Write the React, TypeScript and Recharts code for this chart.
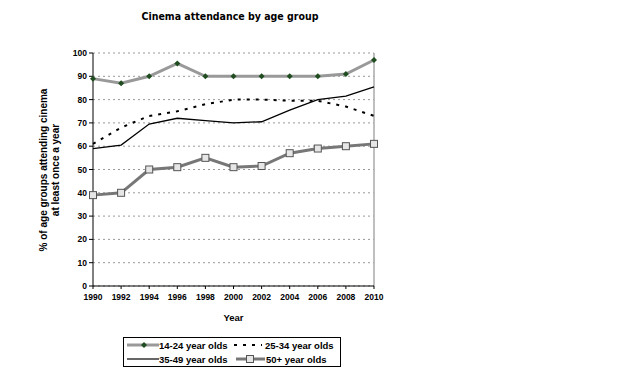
import {
  LineChart,
  Line,
  XAxis,
  YAxis,
  CartesianGrid,
  ReferenceLine,
} from "recharts";

const years = [1990, 1992, 1994, 1996, 1998, 2000, 2002, 2004, 2006, 2008, 2010];
const age14to24 = [89, 87, 90, 95.5, 90, 90, 90, 90, 90, 91, 97];
const age25to34 = [61, 68, 73, 75, 78, 80, 80, 79.5, 79.5, 77, 73];
const age35to49 = [59, 60.5, 69.5, 72, 71, 70, 70.5, 75.5, 80, 81.5, 85.5];
const age50plus = [39, 40, 50, 51, 55, 51, 51.5, 57, 59, 60, 61];
const yTicks = [0, 10, 20, 30, 40, 50, 60, 70, 80, 90, 100];

const data = years.map((y, i) => ({
  year: y,
  a: age14to24[i],
  b: age25to34[i],
  c: age35to49[i],
  d: age50plus[i],
}));

const font = "'Liberation Sans', Arial, sans-serif";
const tickStyle = { fontSize: 8.5, fontWeight: 700, fill: "#000", fontFamily: font };

function Diamond(props: any) {
  const { cx, cy } = props;
  if (cx == null || cy == null) return null;
  return <path d={`M${cx},${cy - 3} L${cx + 3},${cy} L${cx},${cy + 3} L${cx - 3},${cy} Z`} fill="#1f4d1f" />;
}

function Square(props: any) {
  const { cx, cy } = props;
  if (cx == null || cy == null) return null;
  return <rect x={cx - 3.5} y={cy - 3.5} width={7} height={7} fill="#e6e6e6" stroke="#555" strokeWidth={1} />;
}

function LegendBox() {
  const txt = { fontFamily: font, fontSize: 9.5, fontWeight: 700, fill: "#000" } as const;
  return (
    <svg width={218} height={30} style={{ position: "absolute", left: 123, top: 337 }}>
      <rect x={0.5} y={0.5} width={217} height={29} fill="#fff" stroke="#000" />
      <line x1={4} x2={36} y1={8} y2={8} stroke="#999" strokeWidth={3} />
      <Diamond cx={21} cy={8} />
      <text x={36} y={11.5} {...txt}>14-24 year olds</text>
      <line x1={111} x2={139} y1={8} y2={8} stroke="#000" strokeWidth={2} strokeDasharray="3 6" />
      <text x={142} y={11.5} {...txt}>25-34 year olds</text>
      <line x1={4} x2={36} y1={22} y2={22} stroke="#000" strokeWidth={1.2} />
      <text x={36} y={25.5} {...txt}>35-49 year olds</text>
      <line x1={113} x2={142} y1={22} y2={22} stroke="#777" strokeWidth={3} />
      <Square cx={127} cy={22} />
      <text x={143} y={25.5} {...txt}>50+ year olds</text>
    </svg>
  );
}

export default function App() {
  return (
    <div style={{ position: "absolute", left: 0, top: 0, width: 640, height: 378, background: "#fff", fontFamily: font }}>
      <div
        style={{
          position: "absolute",
          left: 0,
          width: 460,
          top: 10,
          textAlign: "center",
          fontSize: 10.5,
          fontWeight: 700,
          fontFamily: "'DejaVu Sans Condensed', 'DejaVu Sans', sans-serif",
        }}
      >
        Cinema attendance by age group
      </div>
      <div
        style={{
          position: "absolute",
          left: 50,
          top: 170,
          width: 220,
          transform: "translate(-50%, -50%) rotate(-90deg)",
          textAlign: "center",
          fontSize: 10,
          fontWeight: 700,
          lineHeight: "12px",
        }}
      >
        % of age groups attending cinema
        <br />
        at least once a year
      </div>
      <div style={{ position: "absolute", left: 93, width: 281, top: 312, textAlign: "center", fontSize: 9.5, fontWeight: 700 }}>
        Year
      </div>
      <LineChart width={640} height={378} data={data} margin={{ top: 53, right: 266, bottom: 72, left: 0 }}>
        <CartesianGrid vertical={false} stroke="#999" strokeDasharray="2 3" />
        <ReferenceLine x={2010} stroke="#aaa" strokeWidth={1.5} />
        <XAxis
          dataKey="year"
          type="number"
          domain={[1990, 2010]}
          ticks={years}
          interval={0}
          height={20}
          stroke="#000"
          tickSize={3}
          tickMargin={5}
          tick={tickStyle}
        />
        <YAxis
          domain={[0, 100]}
          ticks={yTicks}
          interval={0}
          width={93}
          stroke="#000"
          tickSize={4}
          tick={tickStyle}
        />
        <Line dataKey="d" stroke="#777" strokeWidth={3} dot={<Square />} isAnimationActive={false} />
        <Line dataKey="c" stroke="#000" strokeWidth={1.3} dot={false} isAnimationActive={false} />
        <Line dataKey="b" stroke="#000" strokeWidth={2} strokeDasharray="3 6" dot={false} isAnimationActive={false} />
        <Line dataKey="a" stroke="#999" strokeWidth={3} dot={<Diamond />} isAnimationActive={false} />
      </LineChart>
      <LegendBox />
    </div>
  );
}
